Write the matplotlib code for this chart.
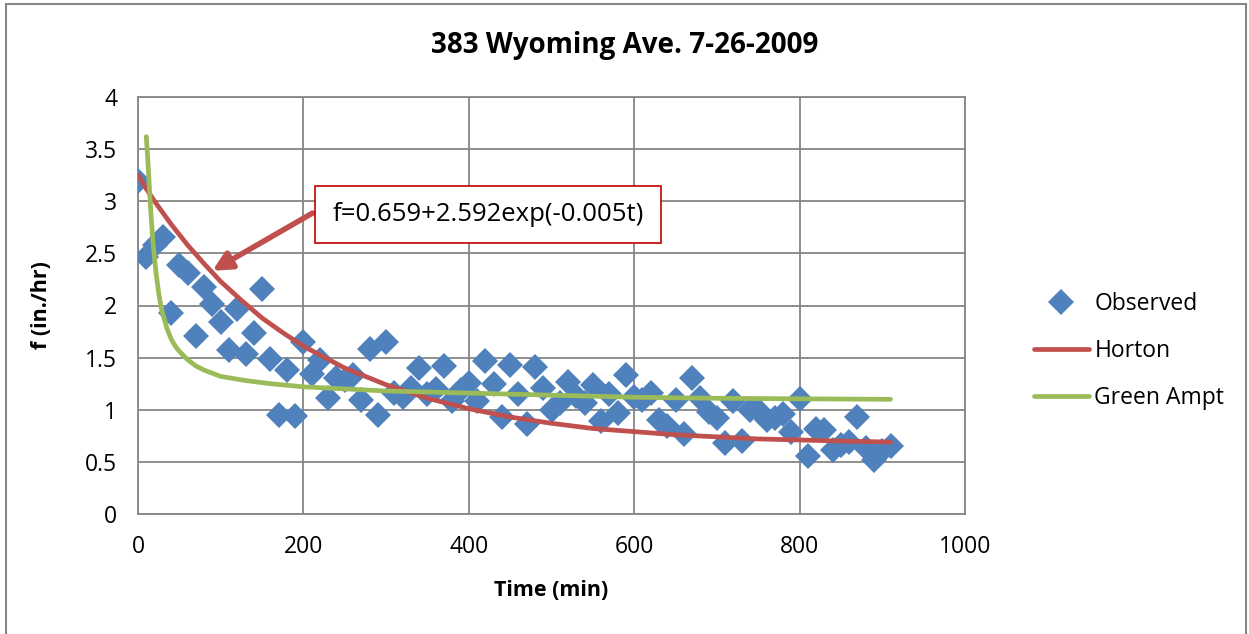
import matplotlib
matplotlib.use('Agg')
import matplotlib.pyplot as plt
from matplotlib.patches import Rectangle

# observed infiltration rate, every 10 min
obs_t = [0, 10, 20, 30, 40, 50, 60, 70, 80, 90,
         100, 110, 120, 130, 140, 150, 160, 170, 180, 190,
         200, 210, 220, 230, 240, 250, 260, 270, 280, 290,
         300, 310, 320, 330, 340, 350, 360, 370, 380, 390,
         400, 410, 420, 430, 440, 450, 460, 470, 480, 490,
         500, 510, 520, 530, 540, 550, 560, 570, 580, 590,
         600, 610, 620, 630, 640, 650, 660, 670, 680, 690,
         700, 710, 720, 730, 740, 750, 760, 770, 780, 790,
         800, 810, 820, 830, 840, 850, 860, 870, 880, 890,
         900, 910]
obs_f = [3.19, 2.47, 2.58, 2.66, 1.93, 2.39, 2.31, 1.71, 2.18, 2.01,
         1.84, 1.57, 1.97, 1.53, 1.74, 2.16, 1.49, 0.95, 1.38, 0.94,
         1.65, 1.34, 1.48, 1.11, 1.30, 1.29, 1.33, 1.09, 1.58, 0.95,
         1.65, 1.16, 1.12, 1.21, 1.40, 1.15, 1.20, 1.42, 1.08, 1.19,
         1.26, 1.08, 1.47, 1.25, 0.93, 1.43, 1.15, 0.86, 1.41, 1.21,
         1.00, 1.06, 1.27, 1.13, 1.06, 1.24, 0.89, 1.15, 0.97, 1.33,
         1.12, 1.09, 1.16, 0.90, 0.84, 1.09, 0.77, 1.30, 1.11, 0.98,
         0.92, 0.68, 1.08, 0.70, 1.00, 1.00, 0.90, 0.92, 0.96, 0.79,
         1.10, 0.56, 0.82, 0.81, 0.61, 0.66, 0.69, 0.93, 0.63, 0.52,
         0.60, 0.65]

# Horton fit curve
horton_t = [0, 10, 20, 30, 40, 50, 60, 80, 100, 125, 150, 175, 200, 250,
            300, 350, 400, 450, 500, 550, 600, 650, 700, 750, 800, 850, 910]
horton_f = [3.25, 3.12, 3.00, 2.89, 2.78, 2.68, 2.58, 2.40, 2.23, 2.05, 1.88,
            1.74, 1.61, 1.40, 1.24, 1.11, 1.01, 0.93, 0.87, 0.82, 0.79, 0.76,
            0.74, 0.72, 0.71, 0.70, 0.69]

# Green Ampt curve
ga_t = [10, 11, 12, 13, 14, 15, 16, 18, 20, 22, 25, 28, 30, 35, 40, 45, 50,
        60, 70, 80, 100, 130, 160, 200, 250, 300, 400, 500, 600, 700, 800, 910]
ga_f = [3.62, 3.50, 3.38, 3.24, 3.10, 2.96, 2.84, 2.62, 2.45, 2.30, 2.12,
        1.98, 1.92, 1.78, 1.68, 1.61, 1.56, 1.48, 1.42, 1.38, 1.32, 1.28,
        1.25, 1.22, 1.20, 1.18, 1.16, 1.14, 1.12, 1.11, 1.105, 1.10]

plt.rcParams['font.family'] = ['Open Sans', 'DejaVu Sans']

fig = plt.figure(figsize=(12.49, 6.34), dpi=100)
ax = fig.add_axes([138/1249, 1 - 514/634, 827/1249, 417/634])

gray = '#868686'
ax.plot(obs_t, obs_f, 'D', color='#4F81BD', ms=13, mew=0, label='Observed', zorder=3)
ax.plot(horton_t, horton_f, color='#C0504D', lw=3.4, label='Horton', zorder=4,
        solid_capstyle='round')
ax.plot(ga_t, ga_f, color='#9BBB59', lw=3.4, label='Green Ampt', zorder=4,
        solid_capstyle='round')

ax.set_xlim(0, 1000)
ax.set_ylim(0, 4)
ax.set_xticks(range(0, 1001, 200))
ax.set_yticks([0, 0.5, 1, 1.5, 2, 2.5, 3, 3.5, 4])
ax.set_yticklabels(['0', '0.5', '1', '1.5', '2', '2.5', '3', '3.5', '4'])
ax.grid(True, color=gray, lw=1.3)
ax.set_axisbelow(True)
for s in ax.spines.values():
    s.set_color(gray)
    s.set_linewidth(1.3)
ax.tick_params(length=0, labelsize=16.5, pad=15)

fig.text(0.5, 1 - 45/634, '383 Wyoming Ave. 7-26-2009', fontsize=20,
         fontweight='bold', ha='center', va='center')
ax.set_xlabel('Time (min)', fontsize=15.5, fontweight='bold', labelpad=15)
ax.set_ylabel('f (in./hr)', fontsize=15.5, fontweight='bold', labelpad=24)

ax.annotate('', xy=(87, 2.32), xytext=(214, 2.90),
            arrowprops=dict(arrowstyle='-|>', color='#C0504D', lw=4,
                            mutation_scale=28), zorder=5)
ax.add_patch(Rectangle((214, 2.60), 418, 0.55, facecolor='white',
                       edgecolor='#C00000', lw=1.2, zorder=5))
ax.text(235, 2.875, 'f=0.659+2.592exp(-0.005t)', fontsize=18.5, va='center',
        ha='left', zorder=6)

leg = ax.legend(loc='center left', bbox_to_anchor=(1.058, 0.391), frameon=False,
                fontsize=16.5, handlelength=2.4, labelspacing=1.0, handletextpad=0.25)

# outer chart border
fig.patches.append(Rectangle((6/1249, -0.01), 1240/1249, 1.01 - 4/634,
                             transform=fig.transFigure, fill=False,
                             edgecolor=gray, lw=1.5))

fig.savefig('out.png', dpi=100)
